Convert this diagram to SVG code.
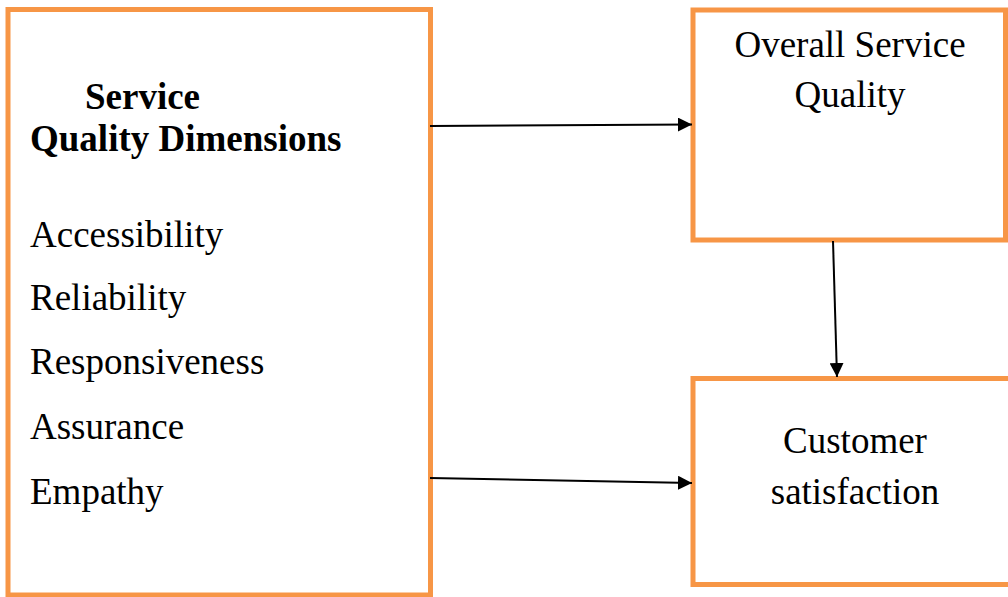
<svg xmlns="http://www.w3.org/2000/svg" width="1008" height="597" viewBox="0 0 1008 597">
<style>
.box{fill:#fff;stroke:#F79646;stroke-width:5}
.t{font-family:"Liberation Serif","Times New Roman",serif;font-size:37px;fill:#000}
.b{font-weight:bold}
.c{text-anchor:middle}
.conn{stroke:#000;stroke-width:2;fill:none}
</style>
<defs>
<marker id="arr" viewBox="0 0 14 14" refX="14" refY="7" markerWidth="14" markerHeight="14" markerUnits="userSpaceOnUse" orient="auto">
<path d="M0,0 L14,7 L0,14 z" fill="#000"/>
</marker>
</defs>
<rect width="1008" height="597" fill="#fff"/>
<g id="dimensions">
<rect class="box" x="8" y="9.5" width="422.5" height="585.5"/>
<text class="t b" x="85" y="109">Service</text>
<text class="t b" x="30" y="151">Quality Dimensions</text>
<text class="t" x="30" y="247">Accessibility</text>
<text class="t" x="30" y="310">Reliability</text>
<text class="t" x="30" y="374">Responsiveness</text>
<text class="t" x="30" y="439">Assurance</text>
<text class="t" x="30" y="504">Empathy</text>
</g>
<g id="overall">
<rect class="box" x="693" y="10" width="312.5" height="230"/>
<text class="t c" x="850" y="57">Overall Service</text>
<text class="t c" x="850" y="107">Quality</text>
</g>
<g id="satisfaction">
<rect class="box" x="693" y="378.5" width="320" height="206"/>
<text class="t c" x="855" y="453">Customer</text>
<text class="t c" x="855" y="504">satisfaction</text>
</g>
<g id="connectors">
<line class="conn" x1="430" y1="126" x2="692" y2="124.5" marker-end="url(#arr)"/>
<line class="conn" x1="430" y1="478" x2="692" y2="483" marker-end="url(#arr)"/>
<line class="conn" x1="833" y1="241" x2="837" y2="377" marker-end="url(#arr)"/>
</g>
</svg>
